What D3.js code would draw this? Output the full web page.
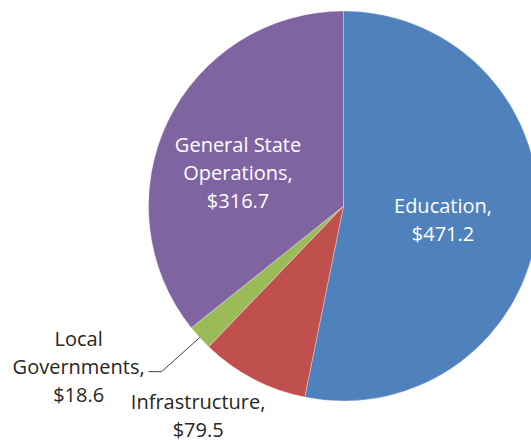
<html>
<head>
  <style>
    body {
      margin: 0;
      background: #ffffff;
    }
    svg text {
      font-family: "Open Sans", "Noto Sans", sans-serif;
      font-size: 20px;
    }
  </style>
</head>
<body>
  <div id="chart"></div>
  <script src="https://d3js.org/d3.v7.min.js"></script>
  <script>
    // spending by category, $ millions
    var categories = ["Education", "Infrastructure", "Local Governments", "General State Operations"];
    var amounts = [471.2, 79.5, 18.6, 316.7];
    var labelLines = [
      ["Education,", "$471.2"],
      ["Infrastructure,", "$79.5"],
      ["Local", "Governments,", "$18.6"],
      ["General State", "Operations,", "$316.7"]
    ];
    var colors = ["#4f81bd", "#c0504d", "#9bbb59", "#8064a2"];

    var width = 531, height = 442,
        cx = 343.5, cy = 206,
        radius = 195,
        lineH = 28;

    // label placement: radius from centre, plus a nudge (x, y)
    var labelLayout = [
      { r: 100, dx: 0, dy: 4, inside: true },
      { r: 195, dx: -55, dy: 37.5, inside: false },
      { r: 195, dx: -121, dy: 29.5, inside: false },
      { r: 112, dx: -4.5, dy: 15.5, inside: true }
    ];

    var svg = d3.select("#chart")
      .append("svg")
      .attr("width", width)
      .attr("height", height);

    var data = categories.map(function (c, i) {
      return { name: c, value: amounts[i], lines: labelLines[i], color: colors[i], lay: labelLayout[i] };
    });

    var pie = d3.pie()
      .sort(null)
      .value(function (d) { return d.value; });

    var arcs = pie(data);

    var arc = d3.arc()
      .innerRadius(0)
      .outerRadius(radius);

    var g = svg.append("g")
      .attr("transform", "translate(" + cx + "," + cy + ")");

    g.selectAll("path")
      .data(arcs)
      .enter().append("path")
      .attr("d", arc)
      .attr("fill", function (d) { return d.data.color; })
      .attr("stroke", "#ffffff")
      .attr("stroke-opacity", 0.5)
      .attr("stroke-width", 0.6);

    function labelPos(d) {
      var a = (d.startAngle + d.endAngle) / 2;
      var r = d.data.lay.r;
      return [Math.sin(a) * r + d.data.lay.dx, -Math.cos(a) * r + d.data.lay.dy];
    }

    // leader line for the small slice
    var small = arcs[2];
    var mid = (small.startAngle + small.endAngle) / 2;
    var edge = [Math.sin(mid) * radius, -Math.cos(mid) * radius];
    var lp = labelPos(small);
    g.append("polyline")
      .attr("points", [
        [lp[0] + 70, lp[1] + 4.5],
        [lp[0] + 83, lp[1] + 4.5],
        edge
      ].map(function (p) { return p.join(","); }).join(" "))
      .attr("fill", "none")
      .attr("stroke", "#404040")
      .attr("stroke-width", 1);

    var labels = g.selectAll("text.lbl")
      .data(arcs)
      .enter().append("text")
      .attr("class", "lbl")
      .attr("text-anchor", "middle")
      .attr("fill", function (d) { return d.data.lay.inside ? "#ffffff" : "#262626"; })
      .attr("transform", function (d) { return "translate(" + labelPos(d) + ")"; });

    labels.each(function (d) {
      var n = d.data.lines.length;
      d3.select(this).selectAll("tspan")
        .data(d.data.lines)
        .enter().append("tspan")
        .attr("x", 0)
        .attr("y", function (t, i) { return (i - (n - 1) / 2) * lineH; })
        .attr("dy", "0.35em")
        .text(function (t) { return t; });
    });
  </script>
</body>
</html>
